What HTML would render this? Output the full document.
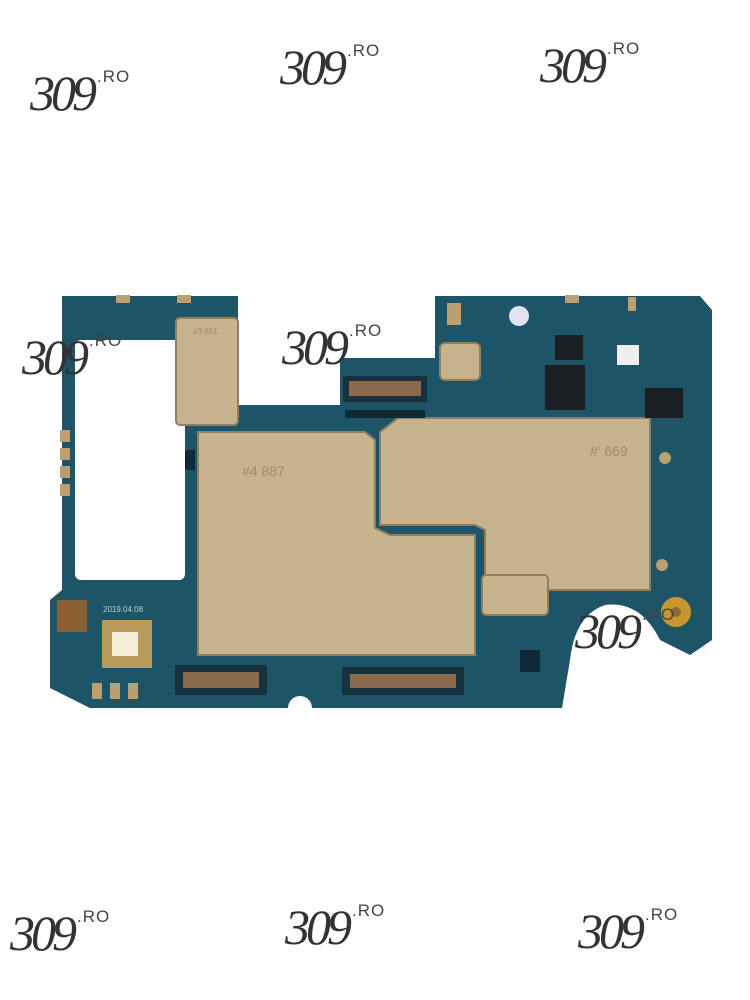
<!DOCTYPE html>
<html><head><meta charset="utf-8"><style>
body{margin:0;background:#fff;width:750px;height:1000px;overflow:hidden;position:relative;font-family:"Liberation Sans",sans-serif}
.wm{position:absolute;font-family:"Liberation Serif",serif;font-style:italic;color:#333;font-size:50px;letter-spacing:-4px;line-height:1}
.wm span{font-family:"Liberation Sans",sans-serif;font-style:normal;font-size:17px;letter-spacing:1px;color:#444;vertical-align:top;margin-left:4px}
</style></head><body>
<svg width="750" height="1000" style="position:absolute;left:0;top:0">
<path d="M62 296 L238 296 L238 405 L340 405 L340 358 L435 358 L435 296 L700 296 L712 310 L712 640 L690 655 L660 640 Q640 600 605 605 Q575 615 570 660 L562 708 L312 708 A12 12 0 0 0 288 708 L90 708 L50 688 L50 600 L62 590 Z" fill="#1e5468"/>
<rect x="75" y="340" width="110" height="240" rx="6" fill="#fff"/>
<path d="M198 432 L365 432 L375 440 L375 528 L390 535 L475 535 L475 655 L198 655 Z" fill="#c8b48c" stroke="#8f7f5f" stroke-width="2"/>
<path d="M380 432 L398 418 L650 418 L650 590 L485 590 L485 530 L475 525 L380 525 Z" fill="#c8b48c" stroke="#8f7f5f" stroke-width="2"/>
<rect x="176" y="318" width="62" height="107" rx="4" fill="#c8b48c" stroke="#8f7f5f" stroke-width="2"/>
<rect x="482" y="575" width="66" height="40" rx="4" fill="#c8b48c" stroke="#8f7f5f" stroke-width="2"/>
<rect x="440" y="343" width="40" height="37" rx="5" fill="#c8b48c" stroke="#8f7f5f" stroke-width="2"/>
<rect x="175" y="665" width="92" height="30" fill="#18323d"/><rect x="183" y="672" width="76" height="16" fill="#8a6a4a"/>
<rect x="342" y="667" width="122" height="28" fill="#18323d"/><rect x="350" y="674" width="106" height="14" fill="#8a6a4a"/>
<rect x="343" y="376" width="84" height="26" fill="#18323d"/><rect x="349" y="381" width="72" height="15" fill="#8a6a4a"/>
<rect x="545" y="365" width="40" height="45" fill="#1a1f24"/>
<rect x="645" y="388" width="38" height="30" fill="#1a1f24"/>
<rect x="555" y="335" width="28" height="25" fill="#1a1f24"/>
<circle cx="519" cy="316" r="10" fill="#dfe4f0"/>
<rect x="617" y="345" width="22" height="20" fill="#eee"/>
<rect x="102" y="620" width="50" height="48" fill="#b89a5a"/><rect x="112" y="632" width="26" height="24" fill="#f3eed8"/>
<rect x="57" y="600" width="30" height="32" fill="#8a6030"/>
<circle cx="676" cy="612" r="15" fill="#c8962e"/><circle cx="676" cy="612" r="5" fill="#8a6a30"/>
<circle cx="665" cy="458" r="6" fill="#b8a070"/><circle cx="662" cy="565" r="6" fill="#b8a070"/>
<g fill="#b8a070"><rect x="116" y="295" width="14" height="8"/><rect x="177" y="295" width="14" height="8"/><rect x="565" y="295" width="14" height="8"/><rect x="628" y="297" width="8" height="14"/><rect x="447" y="303" width="14" height="22"/>
<rect x="60" y="430" width="10" height="12"/><rect x="60" y="448" width="10" height="12"/><rect x="60" y="466" width="10" height="12"/><rect x="60" y="484" width="10" height="12"/>
<rect x="92" y="683" width="10" height="16"/><rect x="110" y="683" width="10" height="16"/><rect x="128" y="683" width="10" height="16"/></g>
<g fill="#0f2a35"><rect x="345" y="410" width="80" height="8"/><rect x="520" y="650" width="20" height="22"/><rect x="185" y="450" width="10" height="20"/></g>
<g fill="#9c8c6c" font-size="14" font-family="Liberation Sans"><text x="242" y="476">#4 887</text><text x="590" y="456">#' 669</text><text x="193" y="334" font-size="8">#3 881</text></g>
<text x="103" y="612" font-size="8" fill="#bcd">2019.04.08</text>
</svg>
<div class="wm" style="left:30px;top:68px">309<span>.RO</span></div>
<div class="wm" style="left:280px;top:42px">309<span>.RO</span></div>
<div class="wm" style="left:540px;top:40px">309<span>.RO</span></div>
<div class="wm" style="left:22px;top:332px">309<span>.RO</span></div>
<div class="wm" style="left:282px;top:322px">309<span>.RO</span></div>
<div class="wm" style="left:575px;top:606px">309<span>.RO</span></div>
<div class="wm" style="left:10px;top:908px">309<span>.RO</span></div>
<div class="wm" style="left:285px;top:902px">309<span>.RO</span></div>
<div class="wm" style="left:578px;top:906px">309<span>.RO</span></div>
</body></html>
